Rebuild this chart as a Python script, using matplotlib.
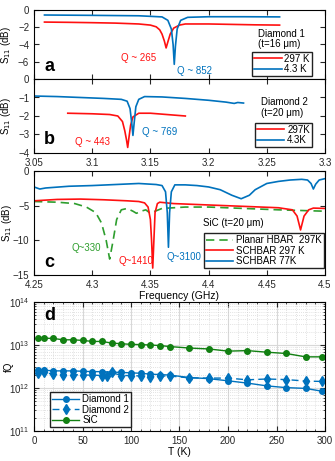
import numpy as np
import matplotlib
matplotlib.use("Agg")
import matplotlib.pyplot as plt
from matplotlib.ticker import MultipleLocator, LogLocator, NullFormatter

plt.rcParams["font.family"] = ["Liberation Sans", "DejaVu Sans"]
plt.rcParams["font.size"] = 7
plt.rcParams["xtick.direction"] = "in"
plt.rcParams["ytick.direction"] = "in"
plt.rcParams["xtick.top"] = True
plt.rcParams["ytick.right"] = True
plt.rcParams["xtick.color"] = "#262626"
plt.rcParams["ytick.color"] = "#262626"
plt.rcParams["axes.linewidth"] = 0.8

BLUE = "#0072BD"
RED = "#FF1010"
GREEN = "#2E9E2E"
DGREEN = "#128012"

# ---- panel a: Diamond 1 (t=16 um)
fa_red = [3.059, 3.08, 3.10, 3.12, 3.14, 3.150, 3.155, 3.158, 3.160, 3.162, 3.1635,
          3.165, 3.167, 3.170, 3.175, 3.18, 3.20, 3.22, 3.24, 3.261]
sa_red = [-1.40, -1.43, -1.47, -1.52, -1.62, -1.75, -1.95, -2.3, -2.8, -3.6, -4.4,
          -3.7, -2.8, -2.1, -1.75, -1.62, -1.62, -1.67, -1.72, -1.75]
fa_blue = [3.059, 3.10, 3.14, 3.160, 3.165, 3.168, 3.1695, 3.1705, 3.1715, 3.173,
           3.176, 3.182, 3.20, 3.23, 3.261]
sa_blue = [-0.58, -0.62, -0.67, -0.8, -1.2, -2.2, -4.0, -6.3, -4.2, -2.2,
           -1.2, -0.85, -0.78, -0.78, -0.8]

# ---- panel b: Diamond 2 (t=20 um)
fb_blue = [3.05, 3.07, 3.09, 3.11, 3.125, 3.130, 3.1325, 3.134, 3.135, 3.136, 3.1375,
           3.140, 3.145, 3.16, 3.18, 3.20, 3.215, 3.222, 3.225, 3.23]
sb_blue = [-0.92, -0.95, -1.0, -1.05, -1.1, -1.2, -1.6, -2.4, -3.05, -2.4, -1.5,
           -1.1, -0.95, -0.97, -1.05, -1.15, -1.25, -1.32, -1.27, -1.3]
fb_red = [3.079, 3.10, 3.115, 3.122, 3.126, 3.128, 3.1295, 3.1305, 3.1315, 3.133,
          3.135, 3.14, 3.15, 3.16, 3.17, 3.18]
sb_red = [-1.85, -1.88, -1.92, -2.0, -2.3, -2.8, -3.3, -3.7, -3.2, -2.5,
          -2.05, -1.85, -1.85, -1.9, -1.95, -2.0]

# ---- panel c: SiC (t=20 um)
fc_blue = [4.25, 4.255, 4.26, 4.28, 4.30, 4.32, 4.34, 4.355, 4.360, 4.363, 4.3645,
           4.3655, 4.3665, 4.368, 4.371, 4.38, 4.39, 4.40, 4.41, 4.42, 4.428, 4.435,
           4.44, 4.45, 4.46, 4.47, 4.48, 4.485, 4.488, 4.490, 4.492, 4.495, 4.50]
sc_blue = [-2.3, -2.6, -2.45, -2.2, -2.1, -1.95, -1.8, -1.95, -2.1, -3.0, -6.0,
           -11.0, -6.0, -3.0, -2.0, -2.0, -2.1, -2.3, -2.7, -3.5, -4.0, -3.5,
           -2.7, -1.8, -1.5, -1.3, -1.2, -1.3, -1.8, -2.6, -1.9, -1.3, -1.1]
fc_red = [4.25, 4.27, 4.29, 4.31, 4.33, 4.34, 4.345, 4.348, 4.350, 4.351, 4.352,
          4.353, 4.354, 4.356, 4.358, 4.37, 4.40, 4.43, 4.46, 4.472, 4.476, 4.479,
          4.482, 4.486, 4.49, 4.50]
sc_red = [-4.3, -4.1, -4.05, -4.15, -4.3, -4.4, -4.6, -5.2, -7.0, -10.0, -14.0,
          -10.0, -6.0, -4.7, -4.5, -4.7, -4.9, -5.1, -5.3, -5.6, -6.5, -8.5,
          -6.5, -5.6, -5.35, -5.4]
fc_green = [4.25, 4.27, 4.285, 4.295, 4.303, 4.308, 4.312, 4.315, 4.318, 4.321,
            4.325, 4.330, 4.335, 4.338, 4.342, 4.346, 4.350, 4.354, 4.36, 4.38,
            4.40, 4.43, 4.46, 4.50]
sc_green = [-4.4, -4.5, -4.7, -5.2, -6.0, -7.5, -10.0, -12.7, -10.0, -7.0,
            -5.6, -5.4, -5.8, -6.1, -5.8, -5.6, -6.1, -5.8, -5.4, -5.2,
            -5.2, -5.4, -5.6, -5.8]

# ---- panel d: fQ vs temperature
T_d1 = [4, 10, 20, 30, 40, 50, 60, 70, 80, 90, 100, 110, 120, 130, 140,
        160, 180, 200, 220, 240, 260, 280, 297]
fq_d1 = [2.6, 2.6, 2.5, 2.5, 2.5, 2.45, 2.4, 2.4, 2.35, 2.3, 2.25, 2.2, 2.1, 2.05, 2.0,
         1.75, 1.65, 1.47, 1.3, 1.12, 1.02, 0.98, 0.84]
T_d2 = [4, 10, 20, 30, 40, 50, 60, 70, 75, 80, 90, 100, 110, 120, 130, 140,
        160, 180, 200, 220, 240, 260, 280, 297]
fq_d2 = [2.2, 2.3, 2.1, 2.05, 2.05, 2.0, 2.0, 1.95, 1.95, 2.3, 1.95, 1.95, 1.9, 1.85,
         1.9, 1.9, 1.72, 1.7, 1.7, 1.55, 1.62, 1.57, 1.45, 1.42]
T_sic = [4, 10, 20, 30, 40, 50, 60, 70, 80, 90, 100, 110, 120, 130, 140,
         160, 180, 200, 220, 240, 260, 280, 297]
fq_sic = [14.7, 14.4, 14.2, 13.2, 13.2, 12.8, 12.1, 12.1, 11.1, 10.7, 10.35, 10.2, 10.0,
          9.7, 9.2, 8.5, 8.1, 7.2, 7.4, 6.8, 6.35, 5.3, 5.3]

W, H = 335, 461
fig = plt.figure(figsize=(W / 100, H / 100), dpi=100)


def box(y0, y1):
    return [34 / W, 1 - y1 / H, 291 / W, (y1 - y0) / H]


def legend(ax, loc, **kw):
    leg = ax.legend(loc=loc, fontsize=7, handlelength=2.8, handletextpad=0.3,
                    borderpad=0.2, labelspacing=0.05, borderaxespad=0,
                    fancybox=False, framealpha=1, **kw)
    leg.get_frame().set_edgecolor("#222222")
    leg.get_frame().set_linewidth(1.0)
    return leg


def ylab(ax, s, right=21):
    ax.set_ylabel(s, fontsize=7)
    ax.yaxis.set_label_coords(-right / 291, 0.5)


lw = 1.2
ax_a = fig.add_axes(box(10, 79))
ax_a.plot(fa_red, sa_red, color=RED, lw=lw, label="297 K")
ax_a.plot(fa_blue, sa_blue, color=BLUE, lw=lw, label="4.3 K")
ax_a.set_xlim(3.05, 3.3)
ax_a.set_ylim(-8, 0)
ax_a.set_yticks([-6, -4, -2, 0])
ax_a.set_xticks([3.05, 3.1, 3.15, 3.2, 3.25, 3.3])
ax_a.set_xticklabels([])
ylab(ax_a, "S$_{11}$ (dB)")
ax_a.text(0.77, 0.58, "Diamond 1\n(t=16 μm)", transform=ax_a.transAxes, fontsize=7,
          va="center", linespacing=1.1)
ax_a.text(0.30, 0.30, "Q ~ 265", transform=ax_a.transAxes, color=RED, fontsize=7,
          va="center")
ax_a.text(0.49, 0.12, "Q ~ 852", transform=ax_a.transAxes, color=BLUE, fontsize=7,
          va="center")
ax_a.text(0.035, 0.12, "a", transform=ax_a.transAxes, fontsize=13, fontweight="bold")
legend(ax_a, "lower right", bbox_to_anchor=(0.955, 0.04))

ax_b = fig.add_axes(box(79, 153))
ax_b.plot(fb_red, sb_red, color=RED, lw=lw, label="297K")
ax_b.plot(fb_blue, sb_blue, color=BLUE, lw=lw, label="4.3K")
ax_b.set_xlim(3.05, 3.3)
ax_b.set_ylim(-4, 0)
ax_b.set_yticks([-4, -3, -2, -1, 0])
ax_b.set_xticks([3.05, 3.1, 3.15, 3.2, 3.25, 3.3])
ax_b.set_xticklabels(["3.05", "3.1", "3.15", "3.2", "3.25", "3.3"])
ylab(ax_b, "S$_{11}$ (dB)")
ax_b.text(0.78, 0.62, "Diamond 2\n(t=20 μm)", transform=ax_b.transAxes, fontsize=7,
          va="center", linespacing=1.1)
ax_b.text(0.14, 0.15, "Q ~ 443", transform=ax_b.transAxes, color=RED, fontsize=7,
          va="center")
ax_b.text(0.37, 0.28, "Q ~ 769", transform=ax_b.transAxes, color=BLUE, fontsize=7,
          va="center")
ax_b.text(0.035, 0.12, "b", transform=ax_b.transAxes, fontsize=13, fontweight="bold")
legend(ax_b, "lower right", bbox_to_anchor=(0.955, 0.08))

ax_c = fig.add_axes(box(171, 275))
ax_c.plot(fc_green, sc_green, color=GREEN, lw=lw, ls=(0, (5, 3)), label="Planar HBAR  297K")
ax_c.plot(fc_red, sc_red, color=RED, lw=lw, label="SCHBAR 297 K")
ax_c.plot(fc_blue, sc_blue, color=BLUE, lw=lw, label="SCHBAR 77K")
ax_c.set_xlim(4.25, 4.5)
ax_c.set_ylim(-15, 0)
ax_c.set_yticks([-15, -10, -5, 0])
ax_c.set_xticks([4.25, 4.3, 4.35, 4.4, 4.45, 4.5])
ax_c.set_xticklabels(["4.25", "4.3", "4.35", "4.4", "4.45", "4.5"])
ax_c.set_xlabel("Frequency (GHz)", fontsize=7.5, labelpad=1)
ylab(ax_c, "S$_{11}$ (dB)", right=20.5)
ax_c.text(0.58, 0.50, "SiC (t=20 μm)", transform=ax_c.transAxes, fontsize=7,
          va="center")
ax_c.text(0.13, 0.26, "Q~330", transform=ax_c.transAxes, color=GREEN, fontsize=7,
          va="center")
ax_c.text(0.29, 0.135, "Q~1410", transform=ax_c.transAxes, color=RED, fontsize=7,
          va="center")
ax_c.text(0.454, 0.17, "Q~3100", transform=ax_c.transAxes, color=BLUE, fontsize=7,
          va="center")
ax_c.text(0.035, 0.08, "c", transform=ax_c.transAxes, fontsize=13, fontweight="bold")
legend(ax_c, "lower right", bbox_to_anchor=(0.995, 0.065))

ax_d = fig.add_axes(box(302, 431))
ms = 4
ax_d.plot(T_d1, np.array(fq_d1) * 1e12, color=BLUE, lw=1.0, marker="o", ms=ms,
          label="Diamond 1")
ax_d.plot(T_d2, np.array(fq_d2) * 1e12, color=BLUE, lw=1.0, ls=(0, (5, 3)), marker="d",
          ms=ms + 1, label="Diamond 2")
ax_d.plot(T_sic, np.array(fq_sic) * 1e12, color=DGREEN, lw=1.0, marker="o", ms=ms,
          label="SiC")
ax_d.set_yscale("log")
ax_d.set_ylim(1e11, 1e14)
ax_d.set_xlim(0, 300)
ax_d.set_xticks([0, 50, 100, 150, 200, 250, 300])
ax_d.xaxis.set_minor_locator(MultipleLocator(10))
ax_d.yaxis.set_minor_locator(LogLocator(base=10, subs=np.arange(2, 10)))
ax_d.yaxis.set_minor_formatter(NullFormatter())
ax_d.grid(True, which="major", color="#d8d8d8", lw=0.8)
ax_d.grid(True, which="minor", color="#c8c8c8", lw=0.5, ls=(0, (1, 2)))
ax_d.set_axisbelow(True)
ax_d.tick_params(which="minor", length=1.5)
ax_d.set_xlabel("T (K)", fontsize=7.5, labelpad=1)
ylab(ax_d, "fQ", right=20)
ax_d.text(0.035, 0.86, "d", transform=ax_d.transAxes, fontsize=13, fontweight="bold")
legend(ax_d, "lower left", bbox_to_anchor=(0.055, 0.03))

fig.savefig("out.png", dpi=100)
